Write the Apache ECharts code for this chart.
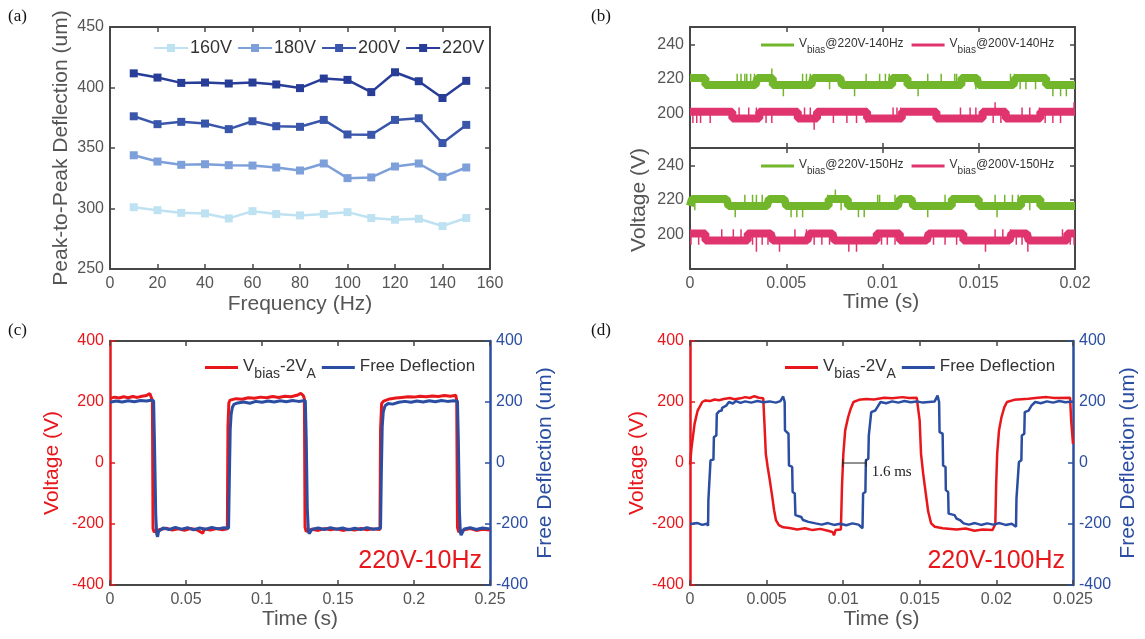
<!DOCTYPE html>
<html><head><meta charset="utf-8">
<script src="https://cdn.jsdelivr.net/npm/echarts@6/dist/echarts.min.js"></script>
<style>html,body{margin:0;padding:0;background:#fff}#c{width:1145px;height:639px}</style>
</head><body><div id="c"></div>
<script>
// ---------- (a) data ----------
const freq = [10,20,30,40,50,60,70,80,90,100,110,120,130,140,150];
const d160 = [301.1,298.6,296.4,295.9,291.8,297.8,295.4,294.3,295.4,297.0,292.1,290.7,291.5,285.5,292.1];
const d180 = [344.0,338.8,336.1,336.6,335.8,335.5,333.9,331.4,337.2,325.1,325.7,334.7,337.2,326.2,333.9];
const d200 = [376.2,369.7,371.6,370.2,365.6,372.1,368.0,367.5,373.2,361.2,360.9,373.2,374.6,354.1,369.1];
const d220 = [411.7,408.2,403.8,404.1,403.3,404.1,402.5,399.5,407.4,406.3,396.2,412.6,405.2,391.3,405.5];

// ---------- (b) data: level code per 0.1 ms (H high, L low, h/l blip, u/d spike) ----------
const bStep = 0.0001;
const g140 = "HHHHHHHHLL"+"LLLLLLLLLL"+"LLLLhLhLhh"+"LhLhLHHHHH"+"HHuLLLLLdL"+"LLLLLLLLhL"+"hLhLHHHHHH"+"HHlHHHHHHL"+"LLLLLdLLLL"+"LhLLLLLLhL"+
             "LhLhLHHHHH"+"HHHLLLLLdL"+"LLLhLLLLLL"+"hLLLLLLhhL"+"LHHHHHHHlH"+"LLLLLLLLLL"+"LLLLLLhLhH"+"HlHHlHHHHl"+"HHHHHLLLdL"+"LLdLLdLLLL";
const p140 = "HlHlHlHHHH"+"lHHHHHHHHH"+"HHLLLhLLLL"+"hLLLhLHHHl"+"HHlHHHHHHH"+"HHHHHHLLLh"+"LLhLdLHHHH"+"HHHHlHHHHH"+"HlHHHHlHHH"+"HlLLLLLLLL"+
             "LLLLLhLhLh"+"HHHHHHHHHH"+"HHHHHHHHLL"+"LLLLLLLLLL"+"hLLLLhLLhL"+"LLHHHHHluH"+"HlHHLLLLLL"+"LLhLLLhLLL"+"LhHHlHHHlH"+"HHlHHHHHHu";
const g150 = "LHlHHHHHHH"+"HHHHHHHHHH"+"LLLdLLLLhL"+"LLhLhLLhLL"+"LHHHHHHHHH"+"LLdLLdLLdL"+"LLLLLLLLLL"+"LhHHHuHHlH"+"HHLLLLLdLL"+"dLLLLLLhhL"+
             "LLLLLLhLLH"+"HHHHHHLLLL"+"LLLdLLLLLL"+"LLhLLLHHHH"+"HHHHHHHHHH"+"LLLLLLLLhd"+"LLLhLLLhLL"+"hLHHHHlHHH"+"HHLLLLLLLL"+"LLLLLLLLLL";
const p150 = "lHHHlHHHLL"+"LLLLLLhLLL"+"LLhLLLhLLL"+"HHlHdHHlHH"+"lHHLLLdLLL"+"LLLLhLLLLL"+"hLHHlHHHlH"+"HHlHHLLLLL"+"LLdLLLdLLL"+"LLLLLLLHHl"+
             "HHlHHHlHHL"+"LLLLLLLLLL"+"LLLLHHlHHH"+"HHlHHHHHlH"+"HHLLLLLLLL"+"LLLdLLLLhL"+"LLhLLLhHHl"+"HHlHHdLLLL"+"LLLLLLLLLL"+"LLLhLLHlHl";
const lvG = {hi:220.5, lo:216.5, top:223, bot:214, up:226, dn:210};
const lvP1 = {hi:201, lo:197, top:203.5, bot:194.5, up:206.5, dn:190.5};
const lvP2 = {hi:200.5, lo:196.5, top:203, bot:194, up:206, dn:190};

// ---------- (c) data ----------
const redC = [[0,212],[0.003,216],[0.006,213],[0.009,217],[0.012,214],[0.015,218],[0.018,215],[0.021,219],[0.024,221],[0.0262,228],[0.0272,222],[0.0279,205],[0.0283,-215],[0.029,-226],[0.033,-218],[0.037,-214],[0.041,-220],[0.045,-216],[0.049,-221],[0.053,-215],[0.057,-219],[0.061,-230],[0.062,-216],[0.066,-220],[0.07,-215],[0.074,-219],[0.0772,-216],[0.0776,120],[0.0782,198],[0.079,206],[0.083,211],[0.087,209],[0.091,214],[0.095,212],[0.099,216],[0.103,214],[0.107,218],[0.111,215],[0.115,219],[0.119,217],[0.123,222],[0.1255,228],[0.1272,221],[0.1279,210],[0.1283,-210],[0.129,-224],[0.133,-217],[0.137,-221],[0.141,-215],[0.145,-219],[0.149,-216],[0.153,-221],[0.157,-217],[0.161,-220],[0.165,-215],[0.169,-219],[0.173,-216],[0.1776,-218],[0.178,110],[0.1787,195],[0.18,203],[0.184,210],[0.188,213],[0.192,215],[0.196,217],[0.2,216],[0.204,219],[0.208,217],[0.212,220],[0.216,218],[0.22,221],[0.224,219],[0.2275,222],[0.2281,205],[0.2286,-212],[0.2295,-226],[0.233,-219],[0.237,-215],[0.241,-221],[0.245,-217],[0.25,-220]];
const blueC = [[0,199],[0.004,203],[0.008,200],[0.012,204],[0.016,201],[0.02,205],[0.024,203],[0.027,206],[0.0287,204],[0.0293,60],[0.0301,-170],[0.0307,-232],[0.0313,-242],[0.032,-224],[0.035,-213],[0.039,-218],[0.043,-211],[0.047,-217],[0.051,-212],[0.055,-219],[0.059,-213],[0.063,-217],[0.067,-211],[0.071,-216],[0.075,-212],[0.078,-214],[0.0785,-60],[0.0791,110],[0.0797,160],[0.0805,182],[0.0815,192],[0.084,197],[0.088,200],[0.092,196],[0.096,202],[0.1,199],[0.104,203],[0.108,200],[0.112,204],[0.116,201],[0.12,205],[0.124,202],[0.1285,205],[0.1291,80],[0.1298,-150],[0.1305,-222],[0.131,-232],[0.133,-217],[0.137,-213],[0.141,-218],[0.145,-212],[0.149,-217],[0.153,-213],[0.157,-219],[0.161,-214],[0.165,-218],[0.169,-212],[0.173,-217],[0.178,-214],[0.1785,-40],[0.1791,120],[0.1798,168],[0.181,188],[0.183,195],[0.186,193],[0.19,199],[0.194,202],[0.198,199],[0.202,203],[0.206,200],[0.21,204],[0.214,201],[0.218,205],[0.222,202],[0.226,204],[0.2286,203],[0.2292,70],[0.2299,-160],[0.2305,-228],[0.231,-236],[0.233,-216],[0.237,-212],[0.241,-218],[0.245,-213],[0.25,-216]];

// ---------- (d) data ----------
const redD = [[0,-5],[0.0001,50],[0.0003,129],[0.0005,172],[0.0008,200],[0.001,205],[0.0013,203],[0.0016,208],[0.0019,206],[0.0022,210],[0.0026,213],[0.0029,209],[0.0033,212],[0.0036,216],[0.0039,213],[0.0042,219],[0.0045,214],[0.00478,212],[0.00485,140],[0.00495,30],[0.00507,-13],[0.00521,-57],[0.00537,-111],[0.00549,-155],[0.00561,-187],[0.0058,-204],[0.00608,-211],[0.0065,-213],[0.007,-218],[0.0075,-214],[0.008,-220],[0.0085,-216],[0.009,-222],[0.0093,-226],[0.0094,-237],[0.0095,-220],[0.00985,-218],[0.00992,-78],[0.01001,30],[0.01013,107],[0.01032,150],[0.01049,178],[0.01067,200],[0.01103,207],[0.0115,210],[0.012,208],[0.01268,214],[0.0132,212],[0.01386,216],[0.0143,213],[0.0148,214],[0.01492,210],[0.01499,140],[0.01508,30],[0.01522,-35],[0.01539,-100],[0.01555,-160],[0.01574,-198],[0.01598,-209],[0.0165,-214],[0.01739,-218],[0.018,-215],[0.01857,-222],[0.0191,-218],[0.01975,-220],[0.01993,-200],[0.01998,-78],[0.02005,30],[0.02017,107],[0.02033,150],[0.02052,183],[0.02069,200],[0.02116,207],[0.0221,211],[0.0227,214],[0.02328,216],[0.0238,213],[0.02481,214],[0.02488,140],[0.025,63]];
const blueD = [[0,-200],[0.0005,-197],[0.0008,-203],[0.0011,-199],[0.00118,-206],[0.0012,-122],[0.00132,-117],[0.00134,9],[0.00153,11],[0.00156,85],[0.00172,90],[0.00175,161],[0.00191,170],[0.00207,172],[0.0021,181],[0.00236,188],[0.00254,200],[0.0028,195],[0.003,203],[0.0033,197],[0.0036,202],[0.004,198],[0.0044,203],[0.0048,199],[0.0052,202],[0.0056,198],[0.0059,203],[0.00608,218],[0.00618,200],[0.0062,107],[0.00643,96],[0.00646,-8],[0.00667,-13],[0.0067,-95],[0.00684,-100],[0.00688,-171],[0.00726,-177],[0.00738,-187],[0.00773,-193],[0.0082,-198],[0.0086,-202],[0.009,-197],[0.0094,-203],[0.0098,-199],[0.0102,-204],[0.0106,-198],[0.011,-202],[0.01126,-214],[0.0113,-100],[0.01145,-95],[0.01148,9],[0.01164,14],[0.01167,90],[0.0118,96],[0.01183,167],[0.01209,172],[0.01225,185],[0.01244,200],[0.0128,196],[0.0132,202],[0.0136,198],[0.014,203],[0.0144,199],[0.0148,202],[0.0152,198],[0.01597,202],[0.01616,221],[0.01626,200],[0.01629,101],[0.01649,96],[0.01652,-8],[0.01668,-13],[0.0167,-89],[0.01685,-95],[0.01688,-166],[0.01727,-171],[0.01739,-182],[0.01762,-187],[0.01786,-198],[0.0182,-202],[0.0186,-197],[0.019,-203],[0.0194,-198],[0.0198,-202],[0.0202,-197],[0.0206,-203],[0.021,-199],[0.02128,-209],[0.02131,-117],[0.02144,-111],[0.02147,3],[0.02163,9],[0.02166,90],[0.02182,96],[0.02185,167],[0.0221,172],[0.02229,188],[0.02253,200],[0.0229,196],[0.0233,202],[0.0237,198],[0.0241,203],[0.0245,199],[0.025,202]];
const delayMark = [[0.00997,0],[0.0115,0]];
const delayText = '1.6 ms';

// ---------- helpers ----------
function bandData(str, lv){
  const pts=[]; let cur = (str[0]==='L'||str[0]==='h') ? lv.lo : lv.hi;
  for(let i=0;i<str.length;i++){
    const c=str[i];
    if(c==='H'||c==='l') cur=lv.hi; else if(c==='L'||c==='h') cur=lv.lo;
    pts.push([i*bStep,cur]);
  }
  pts.push([str.length*bStep,cur]);
  return pts;
}
function spikeData(str, lv){
  const pts=[]; let cur = (str[0]==='L'||str[0]==='h') ? lv.lo : lv.hi;
  for(let i=0;i<str.length;i++){
    const c=str[i];
    if(c==='H'||c==='l') cur=lv.hi; else if(c==='L'||c==='h') cur=lv.lo;
    let tgt=null;
    if(c==='h') tgt=lv.top; else if(c==='l') tgt=lv.bot; else if(c==='u') tgt=lv.up; else if(c==='d') tgt=lv.dn;
    if(tgt!==null){ const t=(i+0.5)*bStep; pts.push([t,cur],[t,tgt],[t,'-']); }
  }
  return pts;
}

const AX='#474747', TXT='#555', RED='#e8171c', BLUE='#2b4ea2', GRN='#72b62b', PNK='#e0346f';
const FONT='Liberation Sans, Arial, sans-serif';
const lbl = (c,s)=>({color:c, fontSize:s||15, fontFamily:FONT});

function xAx(g,min,max,iv,pos,show,name,gap){
  return {gridIndex:g,type:'value',min,max,interval:iv,position:pos,
    axisLine:{show:true,onZero:false,lineStyle:{color:AX,width:2}},
    axisTick:{show:true,inside:true,length:5,lineStyle:{color:AX,width:1.5}},
    splitLine:{show:false},
    axisLabel:Object.assign({show:show,margin:7},lbl(TXT,16)),
    name:name||'',nameLocation:'middle',nameGap:gap||0,
    nameTextStyle:{color:TXT,fontSize:21,fontFamily:FONT}};
}
function yAx(g,min,max,iv,pos,show,color,name,gap,extra){
  return Object.assign({gridIndex:g,type:'value',min,max,interval:iv,position:pos,
    axisLine:{show:true,onZero:false,lineStyle:{color:color||AX,width:color?2.5:2}},
    axisTick:{show:true,inside:true,length:5,lineStyle:{color:color||AX,width:1.5}},
    splitLine:{show:false},
    axisLabel:Object.assign({show:show,margin:6},lbl(color||TXT,16)),
    name:name||'',nameLocation:'middle',nameGap:gap||0,
    nameTextStyle:{color:color||TXT,fontSize:21,fontFamily:FONT}},extra||{});
}
const bYExtra={axisLabel:{show:true,margin:6,color:TXT,fontSize:16,fontFamily:FONT,showMinLabel:false,showMaxLabel:false}};

const richSub = (n,s)=>({n:{fontSize:n,fontFamily:FONT,color:'#333',verticalAlign:'top',lineHeight:n+2},
                         s:{fontSize:s,fontFamily:FONT,color:'#333',verticalAlign:'top',padding:[Math.round(n*0.55),0,0,0],lineHeight:s+2}});
const bNames = {g140:'{n|V}{s|bias}{n|@220V-140Hz}',p140:'{n|V}{s|bias}{n|@200V-140Hz}',
                g150:'{n|V}{s|bias}{n|@220V-150Hz}',p150:'{n|V}{s|bias}{n|@200V-150Hz}'};
const cNames = {vc:'{n|V}{s|bias}{n|-2V}{s|A}',fc:'{n|Free Deflection}',vd:'{n|V}{s|bias}{n|-2V}{s|A}',fd:'{n|Free Deflection}'};

function lineA(name,data,color){
  return {name,type:'line',xAxisIndex:0,yAxisIndex:0,data:freq.map((f,i)=>[f,data[i]]),
    symbol:'rect',symbolSize:8,lineStyle:{color,width:2.5},itemStyle:{color},animation:false};
}
function band(name,str,lv,color,xi,yi){
  return {name,type:'line',xAxisIndex:xi,yAxisIndex:yi,data:bandData(str,lv),step:'end',showSymbol:false,symbol:'none',
    lineStyle:{color,width:8},itemStyle:{color},animation:false};
}
function spikes(str,lv,color,xi,yi){
  return {type:'line',xAxisIndex:xi,yAxisIndex:yi,data:spikeData(str,lv),showSymbol:false,symbol:'none',connectNulls:false,
    lineStyle:{color,width:1.5},animation:false};
}
function wave(name,data,color,xi,yi,w){
  return {name,type:'line',xAxisIndex:xi,yAxisIndex:yi,data,showSymbol:false,symbol:'none',
    lineStyle:{color,width:w||3},itemStyle:{color},animation:false};
}
const flatLeg = {icon:'rect',itemWidth:33,itemHeight:3};

const option = {
  animation:false,
  grid:[
    {left:110,top:27,width:380,height:242},
    {left:690,top:27,width:385,height:121},
    {left:690,top:148,width:385,height:121},
    {left:110,top:341,width:380,height:244},
    {left:690,top:341,width:383,height:244}
  ],
  xAxis:[
    xAx(0,0,160,20,'bottom',true,'Frequency (Hz)',25),
    xAx(0,0,160,20,'top',false),
    xAx(1,0,0.02,0.005,'bottom',false),
    xAx(1,0,0.02,0.005,'top',false),
    xAx(2,0,0.02,0.005,'bottom',true),
    xAx(2,0,0.02,0.005,'top',false),
    xAx(3,0,0.25,0.05,'bottom',true,'Time (s)',24),
    xAx(3,0,0.25,0.05,'top',false),
    xAx(4,0,0.025,0.005,'bottom',true,'Time (s)',24),
    xAx(4,0,0.025,0.005,'top',false)
  ],
  yAxis:[
    yAx(0,250,450,50,'left',true,null,'Peak-to-Peak Deflection (um)',38),
    yAx(0,250,450,50,'right',false),
    yAx(1,180,250,20,'left',true,null,'',0,bYExtra),
    yAx(1,180,250,20,'right',false),
    yAx(2,180,250,20,'left',true,null,'',0,bYExtra),
    yAx(2,180,250,20,'right',false),
    yAx(3,-400,400,200,'left',true,RED,'Voltage (V)',47),
    yAx(3,-400,400,200,'right',true,BLUE,'Free Deflection (um)',45),
    yAx(4,-400,400,200,'left',true,RED,'Voltage (V)',42),
    yAx(4,-400,400,200,'right',true,BLUE,'Free Deflection (um)',45)
  ],
  legend:[
    {left:148,top:34,data:['160V','180V','200V','220V'],itemWidth:34,itemHeight:10,itemGap:5,
     textStyle:{color:'#333',fontSize:18,fontFamily:FONT,padding:[0,0,0,-3]}},
    Object.assign({left:756,top:33,data:['g140','p140'],itemGap:8,
     formatter:n=>bNames[n],textStyle:{rich:richSub(12,10)}},flatLeg),
    Object.assign({left:756,top:154,data:['g150','p150'],itemGap:8,
     formatter:n=>bNames[n],textStyle:{rich:richSub(12,10)}},flatLeg),
    Object.assign({left:200,top:353,data:['vc','fc'],itemGap:6,
     formatter:n=>cNames[n],textStyle:{rich:richSub(17,14)}},flatLeg),
    Object.assign({left:780,top:353,data:['vd','fd'],itemGap:6,
     formatter:n=>cNames[n],textStyle:{rich:richSub(17,14)}},flatLeg)
  ],
  series:[
    lineA('160V',d160,'#bfe2f2'),
    lineA('180V',d180,'#7d9fda'),
    lineA('200V',d200,'#3a56ab'),
    lineA('220V',d220,'#273d97'),
    band('g140',g140,lvG,GRN,2,2), spikes(g140,lvG,GRN,2,2),
    band('p140',p140,lvP1,PNK,2,2), spikes(p140,lvP1,PNK,2,2),
    band('g150',g150,lvG,GRN,4,4), spikes(g150,lvG,GRN,4,4),
    band('p150',p150,lvP2,PNK,4,4), spikes(p150,lvP2,PNK,4,4),
    wave('vc',redC,RED,6,6,3),
    wave('fc',blueC,BLUE,6,7,3),
    wave('vd',redD,RED,8,8,2.5),
    wave('fd',blueD,BLUE,8,9,2.5),
    {type:'line',xAxisIndex:8,yAxisIndex:8,data:delayMark,symbol:'rect',symbolSize:[1,8],showSymbol:true,
     lineStyle:{color:'#222',width:1},itemStyle:{color:'#222'},animation:false,
     label:{show:true,formatter:p=>p.dataIndex===1?delayText:'',position:[6,6],color:'#222',fontSize:15,fontFamily:'Liberation Serif, Times New Roman, serif'}}
  ],
  graphic:[
    {type:'text',left:8,top:8,style:{text:'(a)',font:'17px "Liberation Serif", serif',fill:'#111'}},
    {type:'text',left:591,top:8,style:{text:'(b)',font:'17px "Liberation Serif", serif',fill:'#111'}},
    {type:'text',left:8,top:322,style:{text:'(c)',font:'17px "Liberation Serif", serif',fill:'#111'}},
    {type:'text',left:591,top:322,style:{text:'(d)',font:'17px "Liberation Serif", serif',fill:'#111'}},
    {type:'text',right:663,top:549,style:{text:'220V-10Hz',font:'25px "Liberation Sans", Arial, sans-serif',fill:RED}},
    {type:'text',right:80,top:549,style:{text:'220V-100Hz',font:'25px "Liberation Sans", Arial, sans-serif',fill:RED}},
    {type:'text',left:629,top:148,rotation:Math.PI/2,style:{text:'Voltage (V)',font:'21px "Liberation Sans", Arial, sans-serif',fill:TXT,textAlign:'center',textVerticalAlign:'middle'}},
    {type:'text',left:843,top:292,style:{text:'Time (s)',font:'21px "Liberation Sans", Arial, sans-serif',fill:TXT}}
  ]
};
const chart = echarts.init(document.getElementById('c'),null,{renderer:'canvas'});
chart.setOption(option);
</script></body></html>
